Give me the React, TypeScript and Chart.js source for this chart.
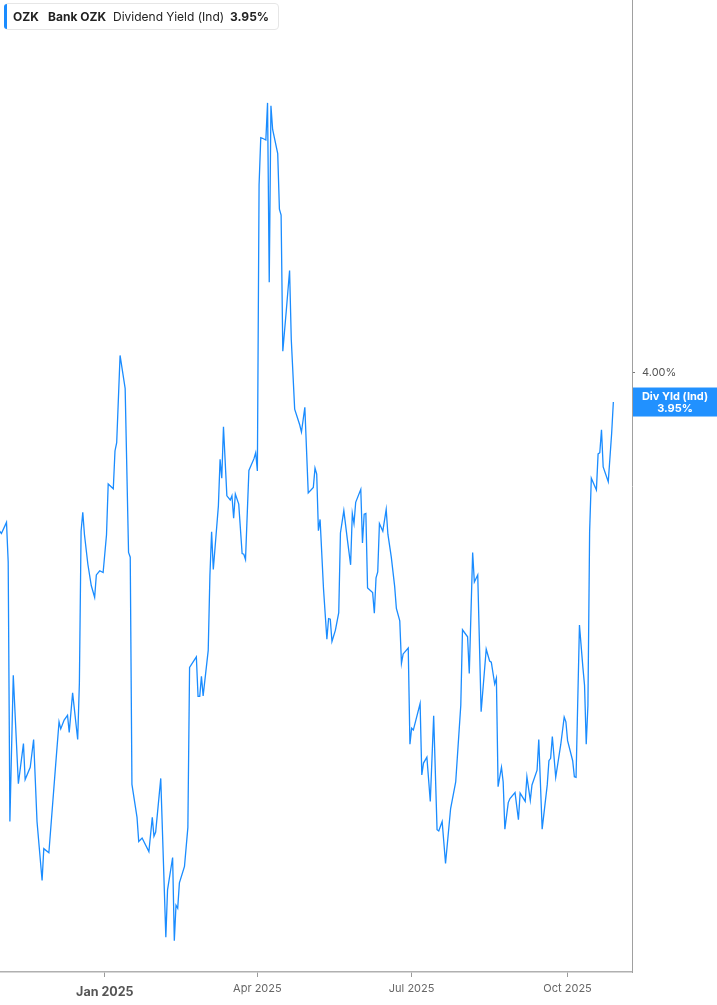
import React, { useEffect, useRef } from 'react';
import { Chart, registerables } from 'chart.js';

Chart.register(...registerables);

const dates: string[] = [
  '2024-10-31','2024-11-01','2024-11-04','2024-11-05','2024-11-06','2024-11-08','2024-11-11','2024-11-14','2024-11-15','2024-11-18',
  '2024-11-20','2024-11-22','2024-11-25','2024-11-26','2024-11-29','2024-12-03','2024-12-05','2024-12-06','2024-12-08','2024-12-10',
  '2024-12-11','2024-12-13','2024-12-16','2024-12-17','2024-12-18','2024-12-19','2024-12-20','2024-12-22','2024-12-24','2024-12-26',
  '2024-12-27','2024-12-29','2024-12-31','2025-01-02','2025-01-03','2025-01-06','2025-01-07','2025-01-08','2025-01-10','2025-01-13',
  '2025-01-15','2025-01-16','2025-01-17','2025-01-20','2025-01-21','2025-01-23','2025-01-27','2025-01-29','2025-01-30','2025-01-31',
  '2025-02-03','2025-02-06','2025-02-07','2025-02-10','2025-02-11','2025-02-12','2025-02-13','2025-02-14','2025-02-17','2025-02-19',
  '2025-02-20','2025-02-24','2025-02-25','2025-02-26','2025-02-27','2025-02-28','2025-03-03','2025-03-04','2025-03-05','2025-03-06',
  '2025-03-09','2025-03-10','2025-03-11','2025-03-12','2025-03-14','2025-03-16','2025-03-17','2025-03-18','2025-03-19','2025-03-21',
  '2025-03-23','2025-03-24','2025-03-25','2025-03-27','2025-03-30','2025-03-31','2025-04-01','2025-04-02','2025-04-03','2025-04-04',
  '2025-04-06','2025-04-07','2025-04-08','2025-04-09','2025-04-10','2025-04-13','2025-04-14','2025-04-15','2025-04-16','2025-04-18',
  '2025-04-20','2025-04-21','2025-04-23','2025-04-26','2025-04-27','2025-04-29','2025-05-01','2025-05-04','2025-05-05','2025-05-06',
  '2025-05-07','2025-05-08','2025-05-10','2025-05-12','2025-05-13','2025-05-14','2025-05-15','2025-05-17','2025-05-19','2025-05-20',
  '2025-05-22','2025-05-24','2025-05-26','2025-05-27','2025-05-28','2025-05-29','2025-06-01','2025-06-02','2025-06-03','2025-06-04',
  '2025-06-05','2025-06-08','2025-06-09','2025-06-10','2025-06-11','2025-06-12','2025-06-14','2025-06-16','2025-06-17','2025-06-19',
  '2025-06-21','2025-06-22','2025-06-24','2025-06-25','2025-06-26','2025-06-29','2025-06-30','2025-07-01','2025-07-02','2025-07-06',
  '2025-07-07','2025-07-08','2025-07-10','2025-07-12','2025-07-14','2025-07-16','2025-07-17','2025-07-19','2025-07-21','2025-07-24',
  '2025-07-27','2025-07-30','2025-07-31','2025-08-03','2025-08-04','2025-08-06','2025-08-07','2025-08-09','2025-08-11','2025-08-14',
  '2025-08-16','2025-08-17','2025-08-19','2025-08-20','2025-08-21','2025-08-23','2025-08-24','2025-08-25','2025-08-27','2025-08-28',
  '2025-08-31','2025-09-02','2025-09-03','2025-09-06','2025-09-07','2025-09-09','2025-09-10','2025-09-13','2025-09-14','2025-09-16',
  '2025-09-19','2025-09-20','2025-09-21','2025-09-22','2025-09-24','2025-09-27','2025-09-29','2025-09-30','2025-10-01','2025-10-04',
  '2025-10-05','2025-10-06','2025-10-08','2025-10-10','2025-10-11','2025-10-12','2025-10-13','2025-10-14','2025-10-15','2025-10-18',
  '2025-10-19','2025-10-20','2025-10-21','2025-10-22','2025-10-25','2025-10-27','2025-10-28',
];

const yields: number[] = [
  3.731,3.727,3.746,3.679,3.239,3.487,3.303,3.371,3.310,3.331,
  3.378,3.239,3.139,3.193,3.186,3.335,3.408,3.396,3.411,3.419,
  3.390,3.457,3.378,3.474,3.731,3.763,3.725,3.675,3.639,3.619,
  3.657,3.664,3.661,3.725,3.811,3.803,3.867,3.881,4.029,3.973,
  3.695,3.687,3.302,3.246,3.205,3.211,3.188,3.246,3.214,3.221,
  3.312,3.043,3.123,3.178,3.037,3.097,3.092,3.135,3.163,3.229,
  3.500,3.518,3.451,3.451,3.485,3.452,3.529,3.656,3.730,3.666,
  3.774,3.853,3.821,3.908,3.791,3.784,3.791,3.753,3.794,3.777,
  3.693,3.692,3.683,3.834,3.854,3.864,3.833,4.318,4.398,4.397,
  4.394,4.457,4.153,4.452,4.412,4.371,4.277,4.267,4.036,4.103,
  4.173,4.056,3.938,3.911,3.899,3.941,3.796,3.805,3.838,3.828,
  3.732,3.751,3.634,3.548,3.583,3.582,3.544,3.563,3.593,3.728,
  3.766,3.719,3.674,3.761,3.744,3.780,3.802,3.711,3.760,3.761,
  3.635,3.627,3.592,3.652,3.662,3.744,3.731,3.768,3.726,3.687,
  3.637,3.600,3.579,3.507,3.523,3.533,3.370,3.397,3.394,3.439,
  3.318,3.338,3.348,3.273,3.418,3.225,3.223,3.239,3.168,3.261,
  3.306,3.436,3.564,3.552,3.490,3.695,3.645,3.657,3.425,3.531,
  3.511,3.509,3.472,3.482,3.298,3.331,3.306,3.226,3.271,3.278,
  3.288,3.242,3.287,3.273,3.315,3.275,3.301,3.326,3.378,3.226,
  3.301,3.342,3.346,3.383,3.314,3.370,3.416,3.408,3.376,3.342,
  3.315,3.314,3.572,3.501,3.470,3.370,3.436,3.730,3.821,3.801,
  3.862,3.864,3.903,3.840,3.815,3.897,3.950,
];

const xTickDates: string[] = ['2025-01-01', '2025-04-01', '2025-07-01', '2025-10-01'];
const xTickLabels: string[] = ['Jan 2025', 'Apr 2025', 'Jul 2025', 'Oct 2025'];
const yTickValues: number[] = [4.0];
const ticker = 'OZK';
const company = 'Bank OZK';
const metric = 'Dividend Yield (Ind)';
const lastValueText = '3.95%';
const badgeLines: string[] = ['Div Yld (Ind)', '3.95%'];

const BLUE = '#1a8cff';
const FONT = "Inter, 'Noto Sans', 'DejaVu Sans', sans-serif";

export default function App() {
  const canvasRef = useRef<HTMLCanvasElement | null>(null);

  useEffect(() => {
    const canvas = canvasRef.current;
    if (!canvas) return;

    const badgePlugin = {
      id: 'badge',
      afterDraw(chart: any) {
        const { ctx, chartArea, scales } = chart;
        const yPix = scales.y.getPixelForValue(yields[yields.length - 1]);
        ctx.save();
        ctx.fillStyle = '#2191ff';
        const left = chartArea.right + 1;
        ctx.fillRect(left, yPix - 14.5, chart.width - left, 29);
        ctx.fillStyle = '#ffffff';
        ctx.font = `700 11px ${FONT}`;
        ctx.textAlign = 'center';
        ctx.textBaseline = 'middle';
        const cx = left + (chart.width - left) / 2;
        ctx.fillText(badgeLines[0], cx, yPix - 5);
        ctx.fillText(badgeLines[1], cx, yPix + 6.5);
        ctx.restore();
      },
    };

    const chart = new Chart(canvas, {
      type: 'line',
      data: {
        datasets: [
          {
            label: metric,
            data: dates.map((d, i) => ({ x: Date.parse(d), y: yields[i] })),
            borderColor: BLUE,
            borderWidth: 1.3,
            pointRadius: 0,
            tension: 0,
            fill: false,
          },
        ],
      },
      options: {
        animation: false,
        responsive: false,
        devicePixelRatio: 1,
        layout: { padding: 0 },
        plugins: {
          legend: { display: false },
          tooltip: { enabled: false },
        },
        scales: {
          x: {
            type: 'linear',
            min: Date.parse('2024-10-31T04:00:00Z'),
            max: Date.parse('2025-11-08T00:00:00Z'),
            afterBuildTicks: (scale: any) => {
              scale.ticks = xTickDates.map((d) => ({ value: Date.parse(d) }));
            },
            afterFit: (scale: any) => {
              scale.height = 33;
              scale.paddingLeft = 0;
              scale.paddingRight = 0;
            },
            grid: {
              display: true,
              drawOnChartArea: false,
              drawTicks: true,
              tickLength: 5,
              color: '#9a9a9a',
              lineWidth: 1,
            },
            border: { display: true, color: '#b0b0b0', width: 1.5 },
            ticks: {
              autoSkip: false,
              maxRotation: 0,
              padding: 5,
              callback: (_v: any, i: number) => xTickLabels[i],
              color: (c: any) => (c.index === 0 ? '#555555' : '#666666'),
              font: (c: any) =>
                c.index === 0
                  ? { family: FONT, size: 12.5, weight: 'bold', lineHeight: 1.6 }
                  : { family: FONT, size: 11, weight: 'normal', lineHeight: 1.2 },
            },
          },
          y: {
            type: 'linear',
            position: 'right',
            min: 2.9839,
            max: 4.6314,
            afterBuildTicks: (scale: any) => {
              scale.ticks = yTickValues.map((v) => ({ value: v }));
            },
            afterFit: (scale: any) => {
              scale.width = 85;
              scale.paddingTop = 0;
              scale.paddingBottom = 0;
            },
            grid: {
              display: true,
              drawOnChartArea: false,
              drawTicks: true,
              tickLength: 3,
              color: '#777777',
            },
            border: { display: true, color: '#a0a0a0', width: 1 },
            ticks: {
              padding: 7,
              color: '#555555',
              font: { family: FONT, size: 11 },
              callback: (v: any) => `${Number(v).toFixed(2)}%`,
            },
          },
        },
      },
      plugins: [badgePlugin],
    } as any);

    return () => chart.destroy();
  }, []);

  const textBase: React.CSSProperties = {
    position: 'absolute',
    top: 9,
    fontFamily: FONT,
    fontSize: 12,
    lineHeight: '15px',
    color: '#222',
    whiteSpace: 'nowrap',
  };

  return (
    <div style={{ position: 'fixed', left: 0, top: 0, width: 717, height: 1005, background: '#fff' }}>
      <canvas ref={canvasRef} width={717} height={1005} style={{ display: 'block', width: 717, height: 1005 }} />
      <div
        style={{
          position: 'absolute',
          left: 4,
          top: 3,
          width: 275,
          height: 27,
          boxSizing: 'border-box',
          border: '1px solid #e6e6e6',
          borderRadius: 4,
          background: '#fff',
        }}
      />
      <div style={{ position: 'absolute', left: 4, top: 4, width: 3, height: 25, background: BLUE, borderRadius: '3px 0 0 3px' }} />
      <span style={{ ...textBase, left: 13, fontWeight: 700 }}>{ticker}</span>
      <span style={{ ...textBase, left: 48, fontWeight: 700 }}>{company}</span>
      <span style={{ ...textBase, left: 113 }}>{metric}</span>
      <span style={{ ...textBase, left: 230, fontWeight: 700 }}>{lastValueText}</span>
    </div>
  );
}
